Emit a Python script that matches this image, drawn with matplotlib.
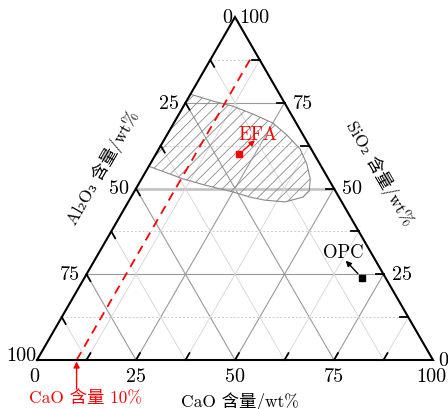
import numpy as np
import matplotlib.pyplot as plt

plt.rcParams['font.family'] = ['cmr10', 'DejaVu Serif', 'Noto Sans CJK SC']
plt.rcParams['hatch.linewidth'] = 0.6

# 三元图刻度
ticks = [0, 25, 50, 75, 100]
minor = [12.5, 37.5, 62.5, 87.5]

# EFA 成分范围 (CaO, SiO2 / wt%)
efa_cao = [0, 6.7, 12.5, 18.7, 25.0, 30.3, 35.7, 39.6, 42.6, 44.1, 43.4,
           39.6, 34.3, 30.0, 25.0, 16.9, 10.5, 0]
efa_sio2 = [77.5, 75.5, 74.0, 71.7, 69.1, 65.6, 61.5, 57.1, 52.8, 49.3, 47.5,
            46.1, 46.6, 47.5, 49.0, 51.0, 52.8, 56.5]

names = ['EFA', 'OPC']
pt_cao = [21, 70]
pt_sio2 = [60, 24]

cao_line = 10      # CaO 含量 10% 线
cao_line_top = 88  # 虚线终点的 SiO2

H = np.sqrt(3) / 2


def tern(cao, sio2):
    cao = np.asarray(cao, float)
    sio2 = np.asarray(sio2, float)
    return cao / 100 + sio2 / 200, sio2 / 100 * H


fig = plt.figure(figsize=(4.48, 4.10), dpi=100)
ax = fig.add_axes([0, 0, 1, 1])
s = 396
ax.set_xlim(-37 / s, (448 - 37) / s)
ax.set_ylim(-(410 - 361) / s, 361 / s)
ax.axis('off')

# 网格
for v in ticks[1:-1] + minor:
    if v in ticks:
        kw = dict(color='#999999', lw=0.8, ls='-')
        kh = dict(kw)
        if v == 50:
            kh = dict(color='#c4c4c4', lw=2.0, ls='-')
    else:
        kw = dict(color='#d4d4d4', lw=0.6, ls='-')
        kh = dict(color='#cccccc', lw=0.7, ls=(0, (2, 2)))
    x, y = tern([v, v], [0, 100 - v])
    ax.plot(x, y, zorder=1, **kw)
    x, y = tern([0, 100 - v], [100 - v, 0])
    ax.plot(x, y, zorder=1, **kw)
    x, y = tern([0, 100 - v], [v, v])
    ax.plot(x, y, zorder=1, **kh)

# EFA 区域
x, y = tern(efa_cao, efa_sio2)
ax.fill(x, y, facecolor='none', edgecolor='#8a8a8a', hatch='///', lw=0.8, zorder=2)

# 三角形边框
x, y = tern([0, 100, 0, 0], [0, 0, 100, 0])
ax.plot(x, y, color='k', lw=1.5, zorder=4, solid_joinstyle='miter')

# 刻度线
L = 0.02
for v in [12.5 * i for i in range(1, 8)]:
    x0, y0 = tern(0, 100 - v)
    ax.plot([x0, x0 + L * 0.5], [y0, y0 - L * H], color='k', lw=1.3, zorder=4)
    x0, y0 = tern(100 - v, v)
    ax.plot([x0, x0 - L], [y0, y0], color='k', lw=1.3, zorder=4)
    x0, y0 = tern(v, 0)
    ax.plot([x0, x0 + L * 0.5], [y0, y0 + L * H], color='k', lw=1.3, zorder=4)

# 刻度标签
fs = 14.5
for v in ticks:
    # Al2O3 (左边)
    off = (-7, 0)
    if v == 0:
        off = (-3, 0)
    if v == 100:
        off = (-1, 5)
    ax.annotate(str(v), tern(0, 100 - v), xytext=off, textcoords='offset pixels',
                ha='right', va='center', fontsize=fs)
    # SiO2 (右边)
    off = (4, 0) if v == 100 else (8, 0)
    if v == 0:
        off = (5, 0)
    ax.annotate(str(v), tern(100 - v, v), xytext=off, textcoords='offset pixels',
                ha='left', va='center', fontsize=fs)
    # CaO (底边)
    off = (0, -16)
    if v == 0:
        off = (-3, -16)
    if v == 100:
        off = (-2, -16)
    ax.annotate(str(v), tern(v, 0), xytext=off, textcoords='offset pixels',
                ha='center', va='center', fontsize=fs)

# 轴标题
tfs = 12.5
ax.annotate('Al₂O₃ 含量/wt%', tern(0, 50), xytext=(-33, 22), textcoords='offset pixels',
            ha='center', va='center', rotation=60, fontsize=tfs)
ax.annotate('SiO₂ 含量/wt%', tern(50, 50), xytext=(46, 16), textcoords='offset pixels',
            ha='center', va='center', rotation=-60, fontsize=tfs)
ax.annotate('CaO 含量/wt%', tern(50, 0), xytext=(5, -41), textcoords='offset pixels',
            ha='center', va='center', fontsize=tfs)

# CaO 10% 虚线
x, y = tern([cao_line, cao_line], [0, cao_line_top])
ax.plot(x, y, color='#ff0000', lw=1.3, ls=(0, (5, 3.5)), zorder=3)
ax.annotate('', tern(cao_line, 0), xytext=(0, -29), textcoords='offset pixels',
            arrowprops=dict(arrowstyle='-|>', color='#ff0000', lw=1,
                            shrinkA=0, shrinkB=1, mutation_scale=9))
ax.annotate('CaO 含量 10%', tern(cao_line, 0), xytext=(9, -37), textcoords='offset pixels',
            ha='center', va='center', fontsize=tfs, color='#ff0000')

# EFA / OPC 点
x, y = tern(pt_cao, pt_sio2)
colors = ['#ff0000', 'k']
arrow_off = [(16, 14), (-16, 17)]
text_off = [(19, 20), (-18, 26)]
for i in range(len(names)):
    ax.plot(x[i], y[i], 's', color=colors[i], ms=5, zorder=5)
    ax.annotate('', (x[i], y[i]), xytext=arrow_off[i], textcoords='offset pixels',
                arrowprops=dict(arrowstyle='<|-', color=colors[i], lw=1,
                                shrinkA=0, shrinkB=4, mutation_scale=8))
    ax.annotate(names[i], (x[i], y[i]), xytext=text_off[i], textcoords='offset pixels',
                ha='center', va='center', fontsize=13.5, color=colors[i])

fig.savefig('out.png', dpi=100)
